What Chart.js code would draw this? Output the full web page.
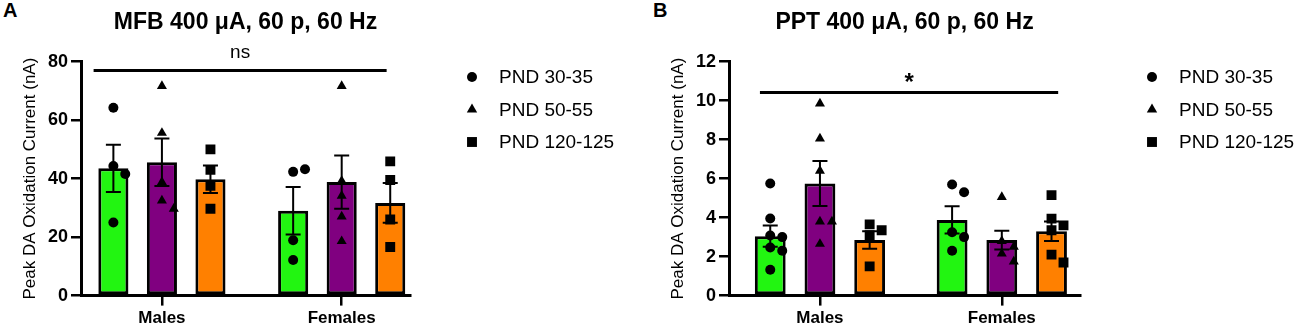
<!DOCTYPE html>
<html>
<head>
<meta charset="utf-8">
<script src="https://cdn.jsdelivr.net/npm/chart.js@4.4.1/dist/chart.umd.min.js"></script>
<style>
  body { margin: 0; background: #fff; width: 1300px; height: 332px; position: relative; overflow: hidden; }
  canvas { position: absolute; top: 0; }
  .tag { position: absolute; top: 0; font: bold 20px 'Liberation Sans', Arial, sans-serif; line-height: 20px; color: #000; }
</style>
</head>
<body>
<div class="tag" style="left:3px">A</div>
<div class="tag" style="left:653px">B</div>
<canvas id="chartA" width="640" height="332" style="left:0"></canvas>
<canvas id="chartB" width="660" height="332" style="left:640px"></canvas>
<script>
const groups = ['Males', 'Females'];
const ages = ['PND 30-35', 'PND 50-55', 'PND 120-125'];
const shapes = ['circle', 'triangle', 'rect'];
const radii = [5, 5.8, 7];
const fills = ['#22f511', '#800080', '#ff8000'];

// MFB 400 uA: [age][Males, Females]
const mfbMean = [[43.5, 29.0], [45.6, 38.8], [39.8, 31.7]];
const mfbSem = [[8.1, 8.1], [8.1, 9.1], [4.7, 6.8]];
const mfbDots = [
  [[64.2, 44.3, 41.6, 25.0], [42.3, 43.2, 18.9, 12.2]],
  [[71.6, 55.6, 38.8, 32.5, 29.7], [71.6, 39.2, 34.1, 27.0, 18.6]],
  [[50.0, 43.0, 37.5, 29.7], [45.9, 39.5, 26.0, 16.6]]
];

// PPT 400 uA
const pptMean = [[3.05, 3.88], [5.75, 2.85], [2.85, 3.3]];
const pptSem = [[0.55, 0.7], [1.15, 0.48], [0.45, 0.5]];
const pptDots = [
  [[5.75, 3.95, 3.08, 3.0, 2.47, 2.3, 1.33], [5.7, 5.3, 3.25, 3.0, 2.3]],
  [[9.85, 8.05, 6.4, 3.8, 3.8, 2.65], [5.05, 2.8, 2.5, 2.15, 1.75]],
  [[3.65, 3.35, 3.1, 1.5], [5.15, 3.95, 3.6, 3.35, 2.1, 1.7]]
];

const yTickStepA = 20, yTickStepB = 2;
const FONT = "'Liberation Sans', Arial, sans-serif";
Chart.defaults.font.family = FONT;
Chart.defaults.color = '#000';

// push overlapping dots sideways (0 = centre, +-1 = one step out)
function swarm(vals, pxPerUnit) {
  const dot = 10, step = 12;
  const placed = [];
  return vals.map(v => {
    const py = v * pxPerUnit;
    for (const k of [0, 1, -1, 2, -2, 3, -3]) {
      if (placed.every(p => Math.hypot((p.k - k) * step, p.py - py) >= dot)) {
        placed.push({k, py});
        return k;
      }
    }
    return 0;
  });
}

const errorBars = {
  id: 'errorBars',
  afterDatasetDraw(chart, args) {
    const ds = chart.data.datasets[args.index];
    if (!ds.sem) return;
    const y = chart.scales.y, ctx = chart.ctx;
    ctx.save();
    ctx.strokeStyle = '#000';
    ctx.lineWidth = 2;
    args.meta.data.forEach((bar, i) => {
      const m = ds.data[i].y, e = ds.sem[i];
      const top = y.getPixelForValue(m + e), bot = y.getPixelForValue(m - e);
      ctx.beginPath();
      ctx.moveTo(bar.x, top); ctx.lineTo(bar.x, bot);
      ctx.moveTo(bar.x - 7.5, top); ctx.lineTo(bar.x + 7.5, top);
      ctx.moveTo(bar.x - 7.5, bot); ctx.lineTo(bar.x + 7.5, bot);
      ctx.stroke();
    });
    ctx.restore();
  }
};

const sigLine = {
  id: 'sigLine',
  afterDatasetsDraw(chart, args, o) {
    const {x, y} = chart.scales, ctx = chart.ctx;
    const x0 = x.getPixelForValue(o.from), x1 = x.getPixelForValue(o.to);
    const py = y.getPixelForValue(o.level);
    ctx.save();
    ctx.strokeStyle = '#000';
    ctx.lineWidth = 3;
    ctx.beginPath(); ctx.moveTo(x0, py); ctx.lineTo(x1, py); ctx.stroke();
    ctx.fillStyle = '#000';
    ctx.font = o.font;
    ctx.textAlign = 'center';
    ctx.textBaseline = 'alphabetic';
    ctx.fillText(o.text, (x0 + x1) / 2, py - o.lift);
    ctx.restore();
  }
};

// legend column to the right of the plot, one row per age group
const sideLegend = {
  id: 'sideLegend',
  afterDraw(chart, args, o) {
    const ctx = chart.ctx;
    ctx.save();
    ctx.fillStyle = '#000';
    ctx.font = '19px ' + FONT;
    ctx.textBaseline = 'middle';
    chart.data.datasets.filter(d => d.type === 'bar').forEach((d, i) => {
      const cy = o.top + i * o.step;
      Chart.helpers.drawPoint(ctx, {pointStyle: d.marker, radius: o.size[i], borderWidth: 0, rotation: 0}, o.x, cy);
      ctx.fillText(d.label, o.x + 27, cy + 1);
    });
    ctx.restore();
  }
};

function buildPanel(id, p) {
  const slot = p.catPct / 3;
  const datasets = [];
  ages.forEach((age, a) => {
    datasets.push({
      type: 'bar',
      label: age,
      marker: shapes[a],
      order: 2,
      data: groups.map((g, s) => ({x: s, y: p.mean[a][s]})),
      sem: p.sem[a],
      backgroundColor: fills[a],
      borderColor: '#000',
      borderWidth: 3,
      borderSkipped: false,
      categoryPercentage: p.catPct,
      barPercentage: 0.62
    });
  });
  ages.forEach((age, a) => {
    const pts = [];
    groups.forEach((g, s) => {
      const ks = swarm(p.dots[a][s], 237 / p.yMax);
      p.dots[a][s].forEach((v, i) => pts.push({x: s + (a - 1) * slot + ks[i] * 12 / 182, y: v}));
    });
    datasets.push({
      type: 'scatter',
      label: age + ' values',
      order: 1,
      data: pts,
      pointStyle: shapes[a],
      pointRadius: radii[a],
      backgroundColor: '#000',
      borderColor: '#000',
      borderWidth: 0
    });
  });

  const tickGrid = {drawOnChartArea: false, tickLength: 10, color: '#000', lineWidth: 2.5, offset: false};
  return new Chart(document.getElementById(id), {
    type: 'bar',
    data: {datasets},
    plugins: [errorBars, sigLine, sideLegend],
    options: {
      responsive: false,
      animation: false,
      events: [],
      layout: {padding: {left: p.padLeft, right: p.padRight, top: 0, bottom: 0}},
      scales: {
        x: {
          type: 'linear', min: p.xMin, max: p.xMax, offset: false,
          ticks: {stepSize: 1, includeBounds: false, autoSkip: false, maxRotation: 0, padding: 3,
                  callback: v => groups[v] ?? '', font: {size: 17, weight: 'bold'}},
          grid: tickGrid,
          border: {color: '#000', width: 3}
        },
        y: {
          min: 0, max: p.yMax,
          ticks: {stepSize: p.yStep, padding: 3, font: {size: 18, weight: 'bold'}},
          grid: tickGrid,
          border: {color: '#000', width: 3},
          title: {display: true, text: 'Peak DA Oxidation Current (nA)', font: {size: 17}, padding: {top: 4, bottom: 4}}
        }
      },
      plugins: {
        title: {display: true, text: p.title, fullSize: false, font: {size: 23, weight: 'bold'}, padding: {top: 9, bottom: 25}},
        legend: {display: false},
        tooltip: {enabled: false},
        sigLine: p.sig,
        sideLegend: p.legend
      }
    }
  });
}

buildPanel('chartA', {
  title: 'MFB 400 μA, 60 p, 60 Hz',
  mean: mfbMean, sem: mfbSem, dots: mfbDots,
  yMax: 80, yStep: yTickStepA,
  xMin: -0.45, xMax: 1.38, catPct: 0.81,
  padLeft: 16.6, padRight: 230,
  sig: {from: -0.38, to: 1.25, level: 77, text: 'ns', font: '19px ' + FONT, lift: 12},
  legend: {x: 472, top: 77, step: 32.5, size: [5, 6, 7]}
});

buildPanel('chartB', {
  title: 'PPT 400 μA, 60 p, 60 Hz',
  mean: pptMean, sem: pptSem, dots: pptDots,
  yMax: 12, yStep: yTickStepB,
  xMin: -0.5, xMax: 1.43, catPct: 0.82,
  padLeft: 24.6, padRight: 220,
  sig: {from: -0.33, to: 1.31, level: 10.42, text: '*', font: 'bold 24px ' + FONT, lift: 2},
  legend: {x: 512, top: 77, step: 32.5, size: [5, 6, 7]}
});
</script>
</body>
</html>
